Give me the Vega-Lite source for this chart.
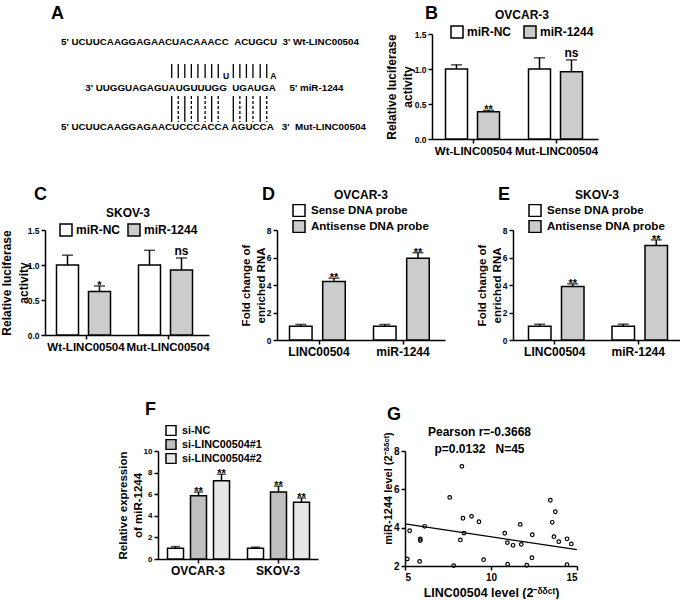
{
  "$schema": "https://vega.github.io/schema/vega-lite/v6.json",
  "padding": {"left": 0, "top": 5, "right": 0, "bottom": 0},
  "background": "white",
  "config": {
    "font": "Liberation Sans",
    "view": {"stroke": null},
    "axis": {"labelFont": "Liberation Sans", "titleFont": "Liberation Sans", "labelFontWeight": "bold", "titleFontWeight": "bold", "labelColor": "black", "titleColor": "black", "domainColor": "black", "tickColor": "black", "domainWidth": 1.5, "tickWidth": 1.5, "tickSize": 4, "grid": false, "labelPadding": 2, "titlePadding": 0, "labelOverlap": false},
    "axisX": {"labelAngle": 0},
    "legend": {"labelFont": "Liberation Sans", "titleFont": "Liberation Sans", "labelFontWeight": "bold", "titleFontWeight": "bold", "labelColor": "black", "titleColor": "black", "symbolType": "square", "symbolStrokeColor": "black", "symbolStrokeWidth": 1.5, "padding": 0, "symbolOpacity": 1},
    "title": {"font": "Liberation Sans", "fontSize": 18, "fontWeight": "bold", "color": "black", "anchor": "start", "frame": "group", "baseline": "alphabetic"},
    "text": {"font": "Liberation Sans"}
  },
  "resolve": {"scale": {"fill": "independent", "strokeDash": "independent", "xOffset": "independent"}, "legend": {"fill": "independent", "strokeDash": "independent"}},
  "vconcat": [
    {
      "spacing": 28,
      "resolve": {"scale": {"fill": "independent", "strokeDash": "independent", "xOffset": "independent"}, "legend": {"fill": "independent", "strokeDash": "independent"}},
      "vconcat": [
        {
          "bounds": "flush",
          "spacing": 56,
          "resolve": {"scale": {"fill": "independent", "strokeDash": "independent", "xOffset": "independent"}, "legend": {"fill": "independent", "strokeDash": "independent"}},
          "hconcat": [
            {
              "width": 331,
              "height": 100,
              "title": {"text": "A", "dx": 6, "offset": 11},
              "layer": [
                {
                  "data": {"values": [
                    {"label": "5' UCUUCAAGGAGAACUACAAACC\u00a0\u00a0ACUGCU\u00a0\u00a03' Wt-LINC00504", "pos": 9.6, "level": 8},
                    {"label": "3' UUGGUAGAGUAUGUUUGG\u00a0\u00a0UGAUGA\u00a0\u00a0\u00a0\u00a0\u00a05' miR-1244", "pos": 13.3, "level": 54},
                    {"label": "5' UCUUCAAGGAGAACUCCCACCA AGUCCA\u00a0\u00a0\u00a03'\u00a0\u00a0Mut-LINC00504", "pos": 9.6, "level": 93}
                  ]},
                  "mark": {"type": "text", "align": "left", "baseline": "middle", "fontSize": 9.8, "fontWeight": "bold", "fill": "black"},
                  "encoding": {
                    "x": {"field": "pos", "type": "quantitative", "scale": {"domain": [7.17, 57.67], "nice": false, "zero": false}, "axis": null},
                    "y": {"field": "level", "type": "quantitative", "scale": {"domain": [0, 100], "reverse": true, "nice": false, "zero": false}, "axis": null},
                    "text": {"field": "label"}
                  }
                },
                {
                  "data": {"values": [
                    {"label": "U", "pos": 34.8, "level": 42},
                    {"label": "A", "pos": 42.0, "level": 42}
                  ]},
                  "mark": {"type": "text", "align": "center", "baseline": "middle", "fontSize": 8.5, "fontWeight": "bold", "fill": "black"},
                  "encoding": {
                    "x": {"field": "pos", "type": "quantitative", "axis": null},
                    "y": {"field": "level", "type": "quantitative", "axis": null},
                    "text": {"field": "label"}
                  }
                },
                {
                  "data": {"values": [
                    {"pos": 26.5, "top": 30, "bottom": 44, "match": "paired"},
                    {"pos": 27.5, "top": 30, "bottom": 44, "match": "paired"},
                    {"pos": 28.5, "top": 30, "bottom": 44, "match": "paired"},
                    {"pos": 29.5, "top": 30, "bottom": 44, "match": "paired"},
                    {"pos": 30.5, "top": 30, "bottom": 44, "match": "paired"},
                    {"pos": 31.6, "top": 30, "bottom": 44, "match": "paired"},
                    {"pos": 32.6, "top": 30, "bottom": 44, "match": "paired"},
                    {"pos": 33.6, "top": 30, "bottom": 44, "match": "paired"},
                    {"pos": 35.9, "top": 30, "bottom": 44, "match": "paired"},
                    {"pos": 36.9, "top": 30, "bottom": 44, "match": "paired"},
                    {"pos": 37.9, "top": 30, "bottom": 44, "match": "paired"},
                    {"pos": 38.9, "top": 30, "bottom": 44, "match": "paired"},
                    {"pos": 40.0, "top": 30, "bottom": 44, "match": "paired"},
                    {"pos": 41.0, "top": 30, "bottom": 44, "match": "paired"},
                    {"pos": 26.5, "top": 62, "bottom": 88, "match": "paired"},
                    {"pos": 27.5, "top": 62, "bottom": 88, "match": "mutated"},
                    {"pos": 28.5, "top": 62, "bottom": 88, "match": "paired"},
                    {"pos": 29.5, "top": 62, "bottom": 88, "match": "mutated"},
                    {"pos": 30.5, "top": 62, "bottom": 88, "match": "paired"},
                    {"pos": 31.6, "top": 62, "bottom": 88, "match": "mutated"},
                    {"pos": 32.6, "top": 62, "bottom": 88, "match": "paired"},
                    {"pos": 33.6, "top": 62, "bottom": 88, "match": "mutated"},
                    {"pos": 35.9, "top": 62, "bottom": 88, "match": "paired"},
                    {"pos": 36.9, "top": 62, "bottom": 88, "match": "mutated"},
                    {"pos": 37.9, "top": 62, "bottom": 88, "match": "paired"},
                    {"pos": 38.9, "top": 62, "bottom": 88, "match": "mutated"},
                    {"pos": 40.0, "top": 62, "bottom": 88, "match": "paired"},
                    {"pos": 41.0, "top": 62, "bottom": 88, "match": "mutated"}
                  ]},
                  "mark": {"type": "rule", "color": "black", "strokeWidth": 1.3},
                  "encoding": {
                    "x": {"field": "pos", "type": "quantitative", "axis": null},
                    "y": {"field": "top", "type": "quantitative", "axis": null},
                    "y2": {"field": "bottom"},
                    "strokeDash": {"field": "match", "type": "nominal", "scale": {"domain": ["paired", "mutated"], "range": [[1, 0], [3, 2]]}, "legend": null}
                  }
                }
              ]
            },
            {
              "width": 166,
              "height": 105,
              "title": {"text": "B", "dx": -7, "offset": -13},
              "data": {"values": [
                {"construct": "Wt-LINC00504", "group": "miR-NC", "value": 1.0, "upper": 1.06, "sig": ""},
                {"construct": "Wt-LINC00504", "group": "miR-1244", "value": 0.39, "upper": 0.41, "sig": "**"},
                {"construct": "Mut-LINC00504", "group": "miR-NC", "value": 1.0, "upper": 1.16, "sig": ""},
                {"construct": "Mut-LINC00504", "group": "miR-1244", "value": 0.96, "upper": 1.13, "sig": "ns"}
              ]},
              "encoding": {
                "x": {"field": "construct", "type": "nominal", "scale": {"type": "band", "domain": ["Wt-LINC00504", "Mut-LINC00504"], "paddingInner": 0, "paddingOuter": 0}, "axis": {"title": null, "labelFontSize": 11.5}},
                "xOffset": {"field": "group", "type": "nominal", "scale": {"type": "band", "domain": ["miR-NC", "miR-1244"], "range": [13.5, 67.5], "paddingInner": 0.3125, "paddingOuter": 0}}
              },
              "layer": [
                {
                  "mark": {"type": "bar", "stroke": "black", "strokeWidth": 1.5},
                  "encoding": {
                    "y": {"field": "value", "type": "quantitative", "scale": {"domain": [0, 1.5], "nice": false}, "axis": {"values": [0, 0.5, 1, 1.5], "format": ".1f", "labelFontSize": 8.5, "title": ["Relative luciferase", "activity"], "titleFontSize": 12, "titleLineHeight": 16}},
                    "fill": {"field": "group", "type": "nominal", "scale": {"domain": ["miR-NC", "miR-1244"], "range": ["#ffffff", "#cccccc"]}, "legend": {"orient": "none", "legendX": 18, "legendY": -24, "direction": "horizontal", "title": "OVCAR-3", "titleAnchor": "middle", "titleFontSize": 12, "titlePadding": 3, "labelFontSize": 12, "labelOffset": 3, "columnPadding": 10, "symbolSize": 144}}
                  }
                },
                {
                  "mark": {"type": "rule", "color": "black", "strokeWidth": 1.5},
                  "encoding": {"y": {"field": "value", "type": "quantitative", "axis": {"values": [0, 0.5, 1, 1.5], "format": ".1f", "labelFontSize": 8.5, "title": ["Relative luciferase", "activity"], "titleFontSize": 12, "titleLineHeight": 16}}, "y2": {"field": "upper"}}
                },
                {
                  "mark": {"type": "tick", "orient": "horizontal", "size": 11, "thickness": 1.5, "color": "black"},
                  "encoding": {"y": {"field": "upper", "type": "quantitative", "axis": {"values": [0, 0.5, 1, 1.5], "format": ".1f", "labelFontSize": 8.5, "title": ["Relative luciferase", "activity"], "titleFontSize": 12, "titleLineHeight": 16}}}
                },
                {
                  "transform": [{"filter": "datum.sig == '*' || datum.sig == '**'"}],
                  "mark": {"type": "text", "baseline": "alphabetic", "dy": 3, "fontSize": 11, "fontWeight": "bold", "fill": "black"},
                  "encoding": {"y": {"field": "upper", "type": "quantitative", "axis": {"values": [0, 0.5, 1, 1.5], "format": ".1f", "labelFontSize": 8.5, "title": ["Relative luciferase", "activity"], "titleFontSize": 12, "titleLineHeight": 16}}, "text": {"field": "sig"}}
                },
                {
                  "transform": [{"filter": "datum.sig == 'ns'"}],
                  "mark": {"type": "text", "baseline": "alphabetic", "dy": -3, "fontSize": 12, "fontWeight": "bold", "fill": "black"},
                  "encoding": {"y": {"field": "upper", "type": "quantitative", "axis": {"values": [0, 0.5, 1, 1.5], "format": ".1f", "labelFontSize": 8.5, "title": ["Relative luciferase", "activity"], "titleFontSize": 12, "titleLineHeight": 16}}, "text": {"field": "sig"}}
                }
              ]
            }
          ]
        },
        {
          "bounds": "flush",
          "spacing": 68,
          "resolve": {"scale": {"fill": "independent", "xOffset": "independent"}, "legend": {"fill": "independent"}},
          "hconcat": [
            {
              "width": 164,
              "height": 105,
              "title": {"text": "C", "dx": -11, "offset": 4.5},
              "data": {"values": [
                {"construct": "Wt-LINC00504", "group": "miR-NC", "value": 1.0, "upper": 1.14, "sig": ""},
                {"construct": "Wt-LINC00504", "group": "miR-1244", "value": 0.62, "upper": 0.7, "sig": "*"},
                {"construct": "Mut-LINC00504", "group": "miR-NC", "value": 1.0, "upper": 1.21, "sig": ""},
                {"construct": "Mut-LINC00504", "group": "miR-1244", "value": 0.93, "upper": 1.1, "sig": "ns"}
              ]},
              "encoding": {
                "x": {"field": "construct", "type": "nominal", "scale": {"type": "band", "domain": ["Wt-LINC00504", "Mut-LINC00504"], "paddingInner": 0, "paddingOuter": 0}, "axis": {"title": null, "labelFontSize": 11.5}},
                "xOffset": {"field": "group", "type": "nominal", "scale": {"type": "band", "domain": ["miR-NC", "miR-1244"], "range": [11.5, 65.5], "paddingInner": 0.3125, "paddingOuter": 0}}
              },
              "layer": [
                {
                  "mark": {"type": "bar", "stroke": "black", "strokeWidth": 1.5},
                  "encoding": {
                    "y": {"field": "value", "type": "quantitative", "scale": {"domain": [0, 1.5], "nice": false}, "axis": {"values": [0, 0.5, 1, 1.5], "format": ".1f", "labelFontSize": 8.5, "title": ["Relative luciferase", "activity"], "titleFontSize": 12, "titleLineHeight": 16.5, "titlePadding": -3}},
                    "fill": {"field": "group", "type": "nominal", "scale": {"domain": ["miR-NC", "miR-1244"], "range": ["#ffffff", "#cccccc"]}, "legend": {"orient": "none", "legendX": 14, "legendY": -22, "direction": "horizontal", "title": "SKOV-3", "titleAnchor": "middle", "titleFontSize": 12, "titlePadding": 3, "labelFontSize": 12, "labelOffset": 3, "columnPadding": 5, "symbolSize": 144}}
                  }
                },
                {
                  "mark": {"type": "rule", "color": "black", "strokeWidth": 1.5},
                  "encoding": {"y": {"field": "value", "type": "quantitative", "axis": {"values": [0, 0.5, 1, 1.5], "format": ".1f", "labelFontSize": 8.5, "title": ["Relative luciferase", "activity"], "titleFontSize": 12, "titleLineHeight": 16.5, "titlePadding": -3}}, "y2": {"field": "upper"}}
                },
                {
                  "mark": {"type": "tick", "orient": "horizontal", "size": 11, "thickness": 1.5, "color": "black"},
                  "encoding": {"y": {"field": "upper", "type": "quantitative", "axis": {"values": [0, 0.5, 1, 1.5], "format": ".1f", "labelFontSize": 8.5, "title": ["Relative luciferase", "activity"], "titleFontSize": 12, "titleLineHeight": 16.5, "titlePadding": -3}}}
                },
                {
                  "transform": [{"filter": "datum.sig == '*' || datum.sig == '**'"}],
                  "mark": {"type": "text", "baseline": "alphabetic", "dy": 3, "fontSize": 11, "fontWeight": "bold", "fill": "black"},
                  "encoding": {"y": {"field": "upper", "type": "quantitative", "axis": {"values": [0, 0.5, 1, 1.5], "format": ".1f", "labelFontSize": 8.5, "title": ["Relative luciferase", "activity"], "titleFontSize": 12, "titleLineHeight": 16.5, "titlePadding": -3}}, "text": {"field": "sig"}}
                },
                {
                  "transform": [{"filter": "datum.sig == 'ns'"}],
                  "mark": {"type": "text", "baseline": "alphabetic", "dy": -3, "fontSize": 12, "fontWeight": "bold", "fill": "black"},
                  "encoding": {"y": {"field": "upper", "type": "quantitative", "axis": {"values": [0, 0.5, 1, 1.5], "format": ".1f", "labelFontSize": 8.5, "title": ["Relative luciferase", "activity"], "titleFontSize": 12, "titleLineHeight": 16.5, "titlePadding": -3}}, "text": {"field": "sig"}}
                }
              ]
            },
            {
              "width": 168,
              "height": 110,
              "title": {"text": "D", "dx": -15, "offset": -13.5},
              "data": {"values": [
                {"target": "LINC00504", "probe": "Sense DNA probe", "value": 1.0, "upper": 1.13, "sig": ""},
                {"target": "LINC00504", "probe": "Antisense DNA probe", "value": 4.25, "upper": 4.5, "sig": "**"},
                {"target": "miR-1244", "probe": "Sense DNA probe", "value": 1.0, "upper": 1.13, "sig": ""},
                {"target": "miR-1244", "probe": "Antisense DNA probe", "value": 5.95, "upper": 6.35, "sig": "**"}
              ]},
              "encoding": {
                "x": {"field": "target", "type": "nominal", "scale": {"type": "band", "domain": ["LINC00504", "miR-1244"], "paddingInner": 0, "paddingOuter": 0}, "axis": {"title": null, "labelFontSize": 12}},
                "xOffset": {"field": "probe", "type": "nominal", "scale": {"type": "band", "domain": ["Sense DNA probe", "Antisense DNA probe"], "range": [12.5, 68.25], "paddingInner": 0.3206, "paddingOuter": 0}}
              },
              "layer": [
                {
                  "mark": {"type": "bar", "stroke": "black", "strokeWidth": 1.5},
                  "encoding": {
                    "y": {"field": "value", "type": "quantitative", "scale": {"domain": [0, 8], "nice": false}, "axis": {"values": [0, 2, 4, 6, 8], "labelFontSize": 8.5, "title": ["Fold change of", "enriched RNA"], "titleFontSize": 11.5, "titleLineHeight": 15}},
                    "fill": {"field": "probe", "type": "nominal", "scale": {"domain": ["Sense DNA probe", "Antisense DNA probe"], "range": ["#ffffff", "#cccccc"]}, "legend": {"orient": "none", "legendX": 15, "legendY": -40, "direction": "vertical", "title": "OVCAR-3", "titleAnchor": "middle", "titleFontSize": 12, "titlePadding": 2, "labelFontSize": 11.5, "labelOffset": 5, "rowPadding": 3, "clipHeight": 13, "symbolSize": 144}}
                  }
                },
                {
                  "mark": {"type": "rule", "color": "black", "strokeWidth": 1.5},
                  "encoding": {"y": {"field": "value", "type": "quantitative", "axis": {"values": [0, 2, 4, 6, 8], "labelFontSize": 8.5, "title": ["Fold change of", "enriched RNA"], "titleFontSize": 11.5, "titleLineHeight": 15}}, "y2": {"field": "upper"}}
                },
                {
                  "mark": {"type": "tick", "orient": "horizontal", "size": 11, "thickness": 1.5, "color": "black"},
                  "encoding": {"y": {"field": "upper", "type": "quantitative", "axis": {"values": [0, 2, 4, 6, 8], "labelFontSize": 8.5, "title": ["Fold change of", "enriched RNA"], "titleFontSize": 11.5, "titleLineHeight": 15}}}
                },
                {
                  "mark": {"type": "text", "baseline": "alphabetic", "dy": 3, "fontSize": 11, "fontWeight": "bold", "fill": "black"},
                  "encoding": {"y": {"field": "upper", "type": "quantitative", "axis": {"values": [0, 2, 4, 6, 8], "labelFontSize": 8.5, "title": ["Fold change of", "enriched RNA"], "titleFontSize": 11.5, "titleLineHeight": 15}}, "text": {"field": "sig"}}
                }
              ]
            },
            {
              "width": 167,
              "height": 110,
              "title": {"text": "E", "dx": -15, "offset": -13.5},
              "data": {"values": [
                {"target": "LINC00504", "probe": "Sense DNA probe", "value": 1.0, "upper": 1.14, "sig": ""},
                {"target": "LINC00504", "probe": "Antisense DNA probe", "value": 3.9, "upper": 4.08, "sig": "**"},
                {"target": "miR-1244", "probe": "Sense DNA probe", "value": 1.0, "upper": 1.15, "sig": ""},
                {"target": "miR-1244", "probe": "Antisense DNA probe", "value": 6.87, "upper": 7.28, "sig": "**"}
              ]},
              "encoding": {
                "x": {"field": "target", "type": "nominal", "scale": {"type": "band", "domain": ["LINC00504", "miR-1244"], "paddingInner": 0, "paddingOuter": 0}, "axis": {"title": null, "labelFontSize": 12}},
                "xOffset": {"field": "probe", "type": "nominal", "scale": {"type": "band", "domain": ["Sense DNA probe", "Antisense DNA probe"], "range": [15.5, 71], "paddingInner": 0.318, "paddingOuter": 0}}
              },
              "layer": [
                {
                  "mark": {"type": "bar", "stroke": "black", "strokeWidth": 1.5},
                  "encoding": {
                    "y": {"field": "value", "type": "quantitative", "scale": {"domain": [0, 8], "nice": false}, "axis": {"values": [0, 2, 4, 6, 8], "labelFontSize": 8.5, "title": ["Fold change of", "enriched RNA"], "titleFontSize": 11.5, "titleLineHeight": 15}},
                    "fill": {"field": "probe", "type": "nominal", "scale": {"domain": ["Sense DNA probe", "Antisense DNA probe"], "range": ["#ffffff", "#cccccc"]}, "legend": {"orient": "none", "legendX": 15, "legendY": -40, "direction": "vertical", "title": "SKOV-3", "titleAnchor": "middle", "titleFontSize": 12, "titlePadding": 2, "labelFontSize": 11.5, "labelOffset": 5, "rowPadding": 3, "clipHeight": 13, "symbolSize": 144}}
                  }
                },
                {
                  "mark": {"type": "rule", "color": "black", "strokeWidth": 1.5},
                  "encoding": {"y": {"field": "value", "type": "quantitative", "axis": {"values": [0, 2, 4, 6, 8], "labelFontSize": 8.5, "title": ["Fold change of", "enriched RNA"], "titleFontSize": 11.5, "titleLineHeight": 15}}, "y2": {"field": "upper"}}
                },
                {
                  "mark": {"type": "tick", "orient": "horizontal", "size": 11, "thickness": 1.5, "color": "black"},
                  "encoding": {"y": {"field": "upper", "type": "quantitative", "axis": {"values": [0, 2, 4, 6, 8], "labelFontSize": 8.5, "title": ["Fold change of", "enriched RNA"], "titleFontSize": 11.5, "titleLineHeight": 15}}}
                },
                {
                  "mark": {"type": "text", "baseline": "alphabetic", "dy": 3, "fontSize": 11, "fontWeight": "bold", "fill": "black"},
                  "encoding": {"y": {"field": "upper", "type": "quantitative", "axis": {"values": [0, 2, 4, 6, 8], "labelFontSize": 8.5, "title": ["Fold change of", "enriched RNA"], "titleFontSize": 11.5, "titleLineHeight": 15}}, "text": {"field": "sig"}}
                }
              ]
            }
          ]
        }
      ]
    },
    {
      "bounds": "flush",
      "spacing": 87,
      "resolve": {"scale": {"fill": "independent", "xOffset": "independent"}, "legend": {"fill": "independent"}},
      "hconcat": [
        {
          "width": 26,
          "height": 10,
          "data": {"values": [{"k": 0}]},
          "mark": {"type": "point", "opacity": 0},
          "encoding": {}
        },
        {
          "width": 160,
          "height": 108,
          "title": {"text": "F", "dx": -13, "offset": 6.5},
          "data": {"values": [
            {"cell": "OVCAR-3", "group": "si-NC", "value": 1.0, "upper": 1.15, "sig": ""},
            {"cell": "OVCAR-3", "group": "si-LINC00504#1", "value": 5.85, "upper": 6.2, "sig": "**"},
            {"cell": "OVCAR-3", "group": "si-LINC00504#2", "value": 7.25, "upper": 7.85, "sig": "**"},
            {"cell": "SKOV-3", "group": "si-NC", "value": 1.0, "upper": 1.1, "sig": ""},
            {"cell": "SKOV-3", "group": "si-LINC00504#1", "value": 6.2, "upper": 6.75, "sig": "**"},
            {"cell": "SKOV-3", "group": "si-LINC00504#2", "value": 5.25, "upper": 5.65, "sig": "**"}
          ]},
          "encoding": {
            "x": {"field": "cell", "type": "nominal", "scale": {"type": "band", "domain": ["OVCAR-3", "SKOV-3"], "paddingInner": 0, "paddingOuter": 0}, "axis": {"title": null, "labelFontSize": 12}},
            "xOffset": {"field": "group", "type": "nominal", "scale": {"type": "band", "domain": ["si-NC", "si-LINC00504#1", "si-LINC00504#2"], "range": [9.5, 71.5], "paddingInner": 0.304, "paddingOuter": 0}}
          },
          "layer": [
            {
              "mark": {"type": "bar", "stroke": "black", "strokeWidth": 1.5},
              "encoding": {
                "y": {"field": "value", "type": "quantitative", "scale": {"domain": [0, 10], "nice": false}, "axis": {"values": [0, 2, 4, 6, 8, 10], "labelFontSize": 8, "title": ["Relative expression", "of miR-1244"], "titleFontSize": 11.5, "titleLineHeight": 15}},
                "fill": {"field": "group", "type": "nominal", "scale": {"domain": ["si-NC", "si-LINC00504#1", "si-LINC00504#2"], "range": ["#ffffff", "#bfbfbf", "#e6e6e6"]}, "legend": {"orient": "none", "legendX": 7, "legendY": -26, "direction": "vertical", "title": null, "labelFontSize": 10.8, "labelOffset": 5, "rowPadding": 2, "clipHeight": 11, "symbolSize": 100}}
              }
            },
            {
              "mark": {"type": "rule", "color": "black", "strokeWidth": 1.5},
              "encoding": {"y": {"field": "value", "type": "quantitative", "axis": {"values": [0, 2, 4, 6, 8, 10], "labelFontSize": 8, "title": ["Relative expression", "of miR-1244"], "titleFontSize": 11.5, "titleLineHeight": 15}}, "y2": {"field": "upper"}}
            },
            {
              "mark": {"type": "tick", "orient": "horizontal", "size": 9, "thickness": 1.5, "color": "black"},
              "encoding": {"y": {"field": "upper", "type": "quantitative", "axis": {"values": [0, 2, 4, 6, 8, 10], "labelFontSize": 8, "title": ["Relative expression", "of miR-1244"], "titleFontSize": 11.5, "titleLineHeight": 15}}}
            },
            {
              "mark": {"type": "text", "baseline": "alphabetic", "dy": 3, "fontSize": 11, "fontWeight": "bold", "fill": "black"},
              "encoding": {"y": {"field": "upper", "type": "quantitative", "axis": {"values": [0, 2, 4, 6, 8, 10], "labelFontSize": 8, "title": ["Relative expression", "of miR-1244"], "titleFontSize": 11.5, "titleLineHeight": 15}}, "text": {"field": "sig"}}
            }
          ]
        },
        {
          "width": 172,
          "height": 115,
          "title": {"text": "G", "dx": -18, "offset": 1.5},
          "layer": [
            {
              "data": {"values": [
                {"linc": 5.13, "mir": 2.37}, {"linc": 5.27, "mir": 3.84}, {"linc": 5.85, "mir": 2.24}, {"linc": 5.89, "mir": 3.41},
                {"linc": 5.89, "mir": 3.33}, {"linc": 6.14, "mir": 4.07}, {"linc": 7.6, "mir": 5.58}, {"linc": 7.83, "mir": 2.02},
                {"linc": 8.22, "mir": 3.36}, {"linc": 8.31, "mir": 7.2}, {"linc": 8.37, "mir": 4.49}, {"linc": 8.43, "mir": 3.72},
                {"linc": 8.87, "mir": 4.59}, {"linc": 9.3, "mir": 4.31}, {"linc": 9.57, "mir": 2.33}, {"linc": 10.8, "mir": 3.71},
                {"linc": 10.95, "mir": 3.22}, {"linc": 10.97, "mir": 2.09}, {"linc": 11.28, "mir": 3.08}, {"linc": 11.7, "mir": 4.17},
                {"linc": 11.76, "mir": 3.13}, {"linc": 12.08, "mir": 2.04}, {"linc": 12.38, "mir": 2.43}, {"linc": 12.4, "mir": 3.63},
                {"linc": 13.45, "mir": 5.43}, {"linc": 13.56, "mir": 4.28}, {"linc": 13.74, "mir": 4.83}, {"linc": 13.66, "mir": 3.53},
                {"linc": 13.94, "mir": 3.27}, {"linc": 14.42, "mir": 3.42}, {"linc": 14.42, "mir": 2.07}, {"linc": 14.67, "mir": 3.15}
              ]},
              "mark": {"type": "point", "shape": "circle", "filled": false, "size": 13, "stroke": "black", "strokeWidth": 1.2, "opacity": 1},
              "encoding": {
                "x": {"field": "linc", "type": "quantitative", "scale": {"domain": [5, 15], "nice": false, "zero": false}, "axis": {"values": [5, 10, 15], "labelFontSize": 10, "title": "LINC00504 level (2\u207b\u1d5f\u1d5f\u1d9c\u1d57)", "titleFontSize": 12.5, "titlePadding": 4}},
                "y": {"field": "mir", "type": "quantitative", "scale": {"domain": [2, 8], "nice": false, "zero": false}, "axis": {"values": [2, 4, 6, 8], "labelFontSize": 10, "title": "miR-1244 level (2\u207b\u1d5f\u1d5f\u1d9c\u1d57)", "titleFontSize": 11, "titleY": 37}}
              }
            },
            {
              "data": {"values": [{"linc": 5, "mir": 4.2}, {"linc": 15, "mir": 2.85}]},
              "mark": {"type": "line", "color": "black", "strokeWidth": 1.3},
              "encoding": {
                "x": {"field": "linc", "type": "quantitative", "axis": {"orient": "top", "labels": false, "ticks": false, "domain": false, "title": ["Pearson r=-0.3668", "p=0.0132\u00a0\u00a0\u00a0N=45"], "titleFontSize": 12, "titleLineHeight": 17, "titleX": 74, "titleY": -20, "titleBaseline": "middle", "titleAlign": "center"}},
                "y": {"field": "mir", "type": "quantitative", "axis": {"values": [2, 4, 6, 8], "labelFontSize": 10, "title": "miR-1244 level (2\u207b\u1d5f\u1d5f\u1d9c\u1d57)", "titleFontSize": 11, "titleY": 37}}
              }
            }
          ],
          "resolve": {"axis": {"x": "independent"}}
        }
      ]
    }
  ],
  "spacing": 43
}
